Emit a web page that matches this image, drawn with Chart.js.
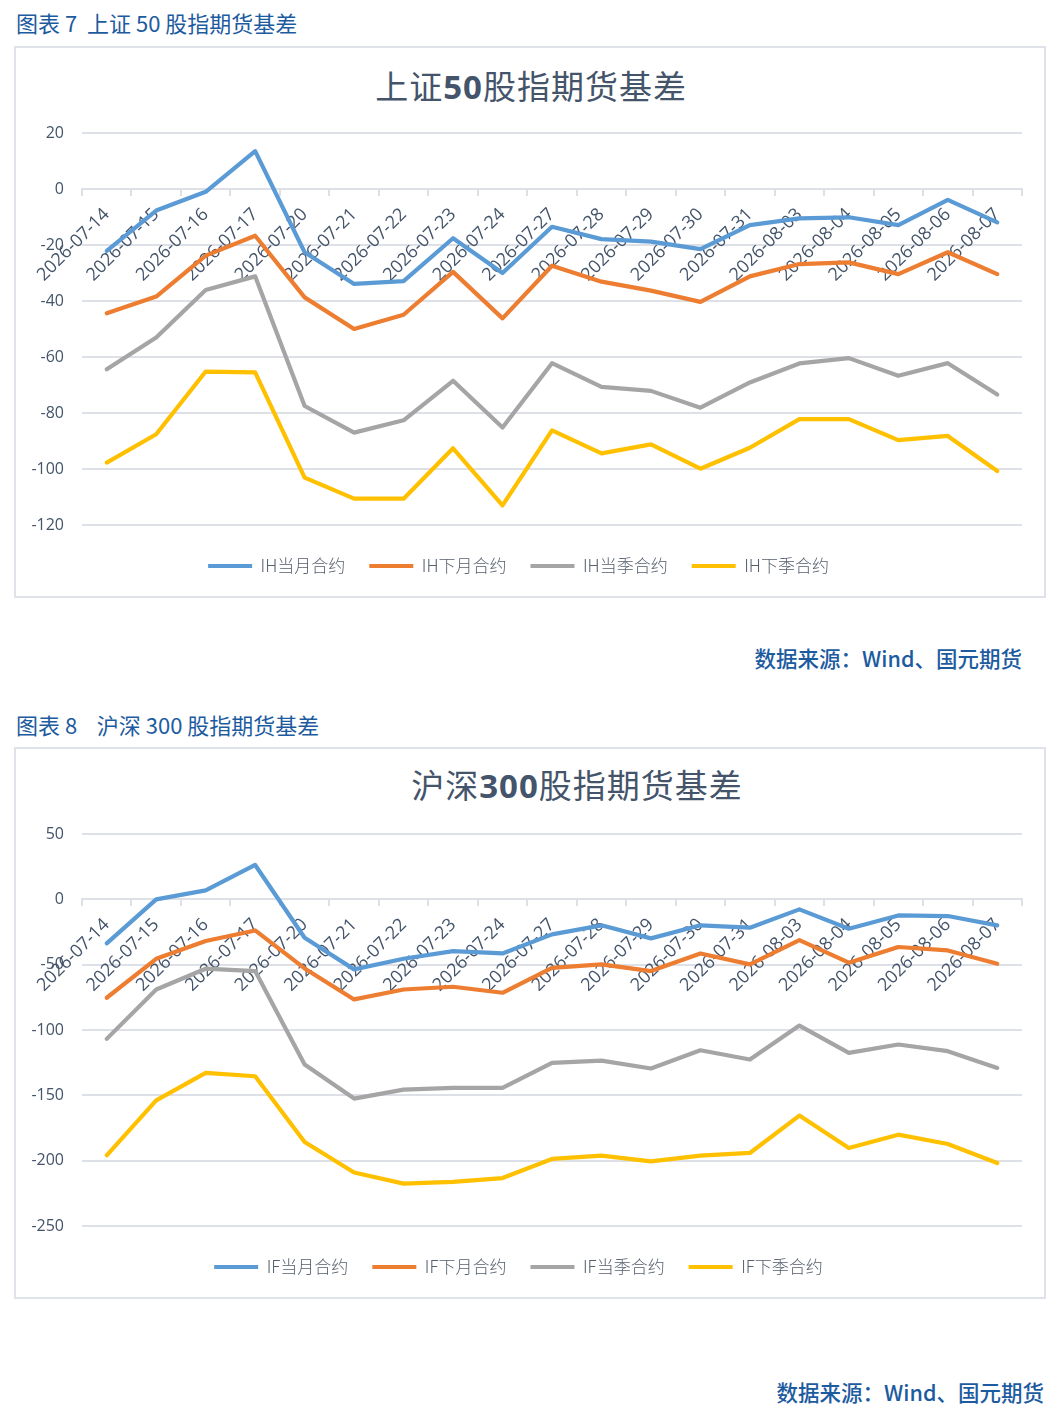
<!DOCTYPE html>
<html>
<head>
<meta charset="utf-8">
<script src="https://cdn.jsdelivr.net/npm/chart.js@4.4.1/dist/chart.umd.min.js"></script>
<style>
  html, body { margin: 0; padding: 0; background: #ffffff; }
  body { width: 1056px; height: 1416px; position: relative; overflow: hidden;
         font-family: "Noto Sans CJK SC", "Noto Sans", sans-serif; }
  .hdr { position: absolute; left: 16px; font-size: 22px; color: #1d5b9f; white-space: pre; line-height: 1; }
  .src { position: absolute; font-size: 21.5px; color: #1d5b9f; white-space: pre; line-height: 1; font-weight: 500; }
  .box { position: absolute; left: 14px; width: 1032px; height: 552px; box-sizing: border-box;
         border: 2px solid #dfe3e9; background: #fff; }
  .ttl { position: absolute; font-size: 33px; color: #44546a; white-space: pre; line-height: 1;
         transform: translate(-50%, -50%); letter-spacing: 1px; }
  .ttl b { font-weight: 700; font-family: "Open Sans", "Noto Sans", sans-serif; }
  canvas { position: absolute; left: 15px; }
</style>
</head>
<body>
<div class="hdr" style="top:11px;">图表 7  上证 50 股指期货基差</div>
<div class="box" style="top:46px;"></div>
<div class="ttl" style="left:531px; top:86px;">上证<b>50</b>股指期货基差</div>
<canvas id="c1" width="1030" height="550" style="top:47px;"></canvas>
<div class="src" id="s1" style="top:647px; right:34px;">数据来源：Wind、国元期货</div>

<div class="hdr" style="top:713px;">图表 8    沪深 300 股指期货基差</div>
<div class="box" style="top:747px;"></div>
<div class="ttl" style="left:577px; top:785px;">沪深<b>300</b>股指期货基差</div>
<canvas id="c2" width="1030" height="550" style="top:748px;"></canvas>
<div class="src" id="s2" style="top:1381px; right:12px;">数据来源：Wind、国元期货</div>

<script>
// ---------- data ----------
const categories = ['2026-07-14','2026-07-15','2026-07-16','2026-07-17','2026-07-20','2026-07-21','2026-07-22',
  '2026-07-23','2026-07-24','2026-07-27','2026-07-28','2026-07-29','2026-07-30','2026-07-31',
  '2026-08-03','2026-08-04','2026-08-05','2026-08-06','2026-08-07'];

const ihSeriesNames = ['IH当月合约','IH下月合约','IH当季合约','IH下季合约'];
const ihCurrentMonth   = [-22.1, -7.7, -1.0, 13.5, -22.6, -33.9, -32.9, -17.6, -30.0, -13.5, -17.9, -18.8, -21.5, -12.9, -10.5, -10.1, -12.9, -3.9, -11.9];
const ihNextMonth      = [-44.4, -38.4, -23.8, -16.7, -38.7, -50.0, -44.9, -29.6, -46.2, -27.4, -33.1, -36.3, -40.3, -31.2, -26.8, -26.2, -30.4, -22.6, -30.4];
const ihCurrentQuarter = [-64.4, -53.0, -36.1, -31.2, -77.5, -87.0, -82.6, -68.5, -85.2, -62.2, -70.7, -72.1, -78.1, -69.1, -62.3, -60.4, -66.7, -62.2, -73.4];
const ihNextQuarter    = [-97.7, -87.6, -65.2, -65.5, -103.1, -110.6, -110.6, -92.6, -113.0, -86.2, -94.4, -91.2, -99.9, -92.4, -82.2, -82.2, -89.7, -88.2, -100.7];
const ihYTicks = [20, 0, -20, -40, -60, -80, -100, -120];

const ifSeriesNames = ['IF当月合约','IF下月合约','IF当季合约','IF下季合约'];
const ifCurrentMonth   = [-33.7, 0.0, 6.9, 26.3, -29.4, -53.6, -45.5, -39.6, -41.4, -26.8, -19.9, -29.9, -19.9, -21.7, -7.7, -22.5, -12.3, -12.8, -19.9];
const ifNextMonth      = [-75.3, -45.5, -31.9, -23.8, -52.9, -76.6, -69.0, -66.9, -71.5, -52.4, -49.8, -54.9, -41.4, -49.8, -31.2, -48.5, -36.5, -39.1, -49.3];
const ifCurrentQuarter = [-106.8, -69.0, -53.1, -54.9, -126.4, -152.5, -145.6, -144.3, -144.3, -125.2, -123.4, -129.5, -115.5, -122.6, -96.6, -117.5, -111.1, -116.2, -129.0];
const ifNextQuarter    = [-195.9, -153.8, -132.8, -135.4, -185.7, -209.0, -217.6, -216.3, -213.3, -198.7, -196.2, -200.5, -196.2, -194.1, -165.5, -190.3, -180.1, -187.2, -201.8];
const ifYTicks = [50, 0, -50, -100, -150, -200, -250];

const seriesColors = ['#5b9bd5', '#ed7d31', '#a5a5a5', '#ffc000'];

// ---------- chart ----------
const GRID = '#dde1e7';
const AXIS_TEXT = '#44546a';

const legendShift = {
  id: 'legendShift',
  afterLayout(chart) {
    const l = chart.legend;
    if (l) { l.top += 8.5; l.bottom += 8.5; }
  }
};

function makeChart(id, names, series, yTicks) {
  const yMax = Math.max(...yTicks), yMin = Math.min(...yTicks);
  const step = yTicks[0] - yTicks[1];
  return new Chart(document.getElementById(id), {
    type: 'line',
    data: {
      labels: categories,
      datasets: series.map((s, i) => ({
        label: names[i],
        data: s,
        borderColor: seriesColors[i],
        backgroundColor: seriesColors[i],
        borderWidth: 4.2,
        borderCapStyle: 'round',
        borderJoinStyle: 'round',
        pointRadius: 0,
        pointHoverRadius: 0,
        tension: 0,
        fill: false
      }))
    },
    options: {
      responsive: false,
      animation: false,
      layout: { padding: { top: 86, right: 23, bottom: 21, left: 0 } },
      plugins: {
        title: { display: false },
        tooltip: { enabled: false },
        legend: {
          position: 'bottom',
          labels: {
            usePointStyle: true,
            pointStyle: 'line',
            pointStyleWidth: 44,
            boxHeight: 17,
            padding: 24,
            color: '#56606e',
            font: { family: '"Noto Sans CJK SC", "Noto Sans", sans-serif', size: 17, weight: 300 }
          }
        }
      },
      scales: {
        x: {
          type: 'category',
          position: { y: 0 },
          offset: true,
          grid: { display: true, drawOnChartArea: false, drawTicks: true, tickLength: 6, color: GRID, lineWidth: 2, offset: true },
          border: { display: true, color: GRID, width: 2 },
          ticks: {
            autoSkip: false, minRotation: 45, maxRotation: 45, padding: 9,
            color: AXIS_TEXT,
            font: { family: '"Open Sans", "Noto Sans", sans-serif', size: 18 }
          }
        },
        y: {
          min: yMin, max: yMax,
          afterFit(scale) { scale.width = 67; },
          afterBuildTicks(scale) { scale.ticks = yTicks.slice().reverse().map(v => ({ value: v })); },
          grid: { color: GRID, lineWidth: 2, drawTicks: false },
          border: { display: false },
          ticks: {
            stepSize: step, padding: 18,
            color: AXIS_TEXT,
            font: { family: '"Open Sans", "Noto Sans", sans-serif', size: 16 }
          }
        }
      }
    },
    plugins: [legendShift]
  });
}

makeChart('c1', ihSeriesNames, [ihCurrentMonth, ihNextMonth, ihCurrentQuarter, ihNextQuarter], ihYTicks);
makeChart('c2', ifSeriesNames, [ifCurrentMonth, ifNextMonth, ifCurrentQuarter, ifNextQuarter], ifYTicks);
</script>
</body>
</html>
